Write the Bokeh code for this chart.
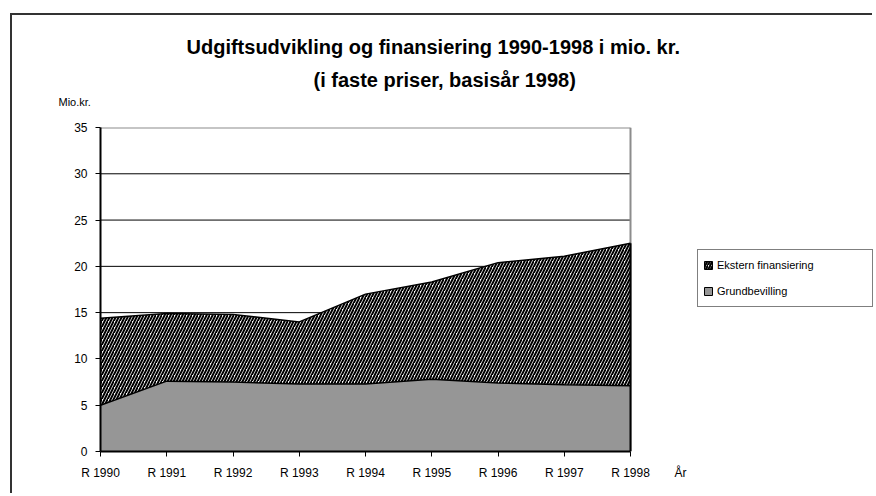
from bokeh.plotting import figure
from bokeh.models import (ColumnDataSource, Legend, LegendItem, Title, Range1d,
                          FixedTicker)
from bokeh.embed import file_html
from bokeh.resources import INLINE

years = ["R 1990", "R 1991", "R 1992", "R 1993", "R 1994", "R 1995", "R 1996", "R 1997", "R 1998"]
grundbevilling = [5.0, 7.6, 7.5, 7.3, 7.3, 7.8, 7.4, 7.2, 7.1]
ekstern = [9.4, 7.3, 7.3, 6.7, 9.7, 10.5, 13.0, 13.9, 15.4]
y_ticks = [0, 5, 10, 15, 20, 25, 30, 35]

FONT = "Liberation Sans"
GRAY = "#969696"
NAN = float("nan")

xs = list(range(len(years)))
total = [g + e for g, e in zip(grundbevilling, ekstern)]
zeros = [0] * len(xs)
src = ColumnDataSource(dict(x=xs, g=grundbevilling, t=total, z=zeros))

x_last = xs[-1]
y_top = y_ticks[-1]
PX_PER_X = 66.25          # horizontal scale of the plot area (px per category step)
W, H = 862, 480
LEFT, TOP, BOTTOM = 88, 112, 44
x_end = (W - LEFT) / PX_PER_X  # plot frame continues to the right to hold the legend

p = figure(width=W, height=H, output_backend="svg", toolbar_location=None, title=None,
           x_range=Range1d(0, x_end), y_range=Range1d(0, y_top),
           min_border_left=LEFT, min_border_right=0, min_border_top=TOP,
           min_border_bottom=BOTTOM)
p.background_fill_color = "white"
p.border_fill_color = "white"
p.outline_line_color = None
p.styles = {"border-top": "2px solid #333333", "border-left": "2px solid #333333",
            "margin-left": "10px", "margin-top": "13px"}

# horizontal grid lines (only over the plot area)
grid_y = y_ticks[1:-1]
p.segment(x0=[0] * len(grid_y), y0=grid_y, x1=[x_last] * len(grid_y), y1=grid_y,
          line_color="black", line_width=1)
# gray plot-area border (top and right)
p.segment(x0=[0, x_last], y0=[y_top, 0], x1=[x_last, x_last], y1=[y_top, y_top],
          line_color="#8c8c8c", line_width=2)

p.varea(x="x", y1="z", y2="g", source=src, fill_color=GRAY)
p.varea(x="x", y1="g", y2="t", source=src, fill_color="white",
        hatch_pattern="/", hatch_color="black", hatch_scale=6, hatch_weight=2)
p.line(x="x", y="t", source=src, line_color="black", line_width=1.5)
p.line(x="x", y="g", source=src, line_color="black", line_width=1.5)
p.segment(x0=[x_last], y0=[0], x1=[x_last], y1=[total[-1]], line_color="black", line_width=2)

# legend swatches (bordered boxes; NaN data so nothing is drawn in the plot)
leg_e = p.quad(left=[NAN], right=[NAN], top=[NAN], bottom=[NAN], fill_color="white",
               line_color="black", line_width=1, hatch_pattern="/", hatch_color="black",
               hatch_scale=5, hatch_weight=2)
leg_g = p.quad(left=[NAN], right=[NAN], top=[NAN], bottom=[NAN], fill_color=GRAY,
               line_color="black", line_width=1)

p.xgrid.visible = False
p.ygrid.visible = False

p.yaxis.ticker = FixedTicker(ticks=y_ticks)
p.xaxis.ticker = FixedTicker(ticks=xs)
p.xaxis.bounds = (0, x_last)
p.xaxis.major_label_overrides = {i: lab for i, lab in enumerate(years)}
for ax in (p.xaxis, p.yaxis):
    ax.axis_line_color = "black"
    ax.axis_line_width = 2
    ax.major_tick_line_color = "black"
    ax.major_tick_line_width = 1
    ax.major_tick_out = 5
    ax.major_tick_in = 0
    ax.minor_tick_line_color = None
    ax.major_label_text_font = FONT
    ax.major_label_text_font_size = "12px"
    ax.major_label_text_color = "black"
p.xaxis.major_label_standoff = 9
p.yaxis.major_label_standoff = 8

def title(text, size, bold, offset, standoff, align="left", valign="bottom"):
    return Title(text=text, text_font=FONT, text_font_size=size,
                 text_font_style="bold" if bold else "normal", text_color="black",
                 align=align, offset=offset, standoff=standoff, vertical_align=valign)

# above stack: first = closest to the plot frame
p.add_layout(title(" ", "1px", False, 0, 17), "above")                      # spacer
p.add_layout(title("Mio.kr.", "11px", False, -42, 0), "above")
p.add_layout(title("(i faste priser, basisår 1998)", "20px", True, 213, 6), "above")
p.add_layout(title("Udgiftsudvikling og finansiering 1990-1998 i mio. kr.", "20px", True, 86, 12), "above")
p.add_layout(title("År\n \n ", "12px", False, 574, -34, align="left", valign="top"), "below")

legend = Legend(items=[LegendItem(label="Ekstern finansiering", renderers=[leg_e]),
                       LegendItem(label="Grundbevilling", renderers=[leg_g])],
                location=(597, 144), orientation="vertical")
legend.label_text_font = FONT
legend.label_text_font_size = "11px"
legend.label_text_color = "black"
legend.glyph_width = 10
legend.glyph_height = 10
legend.label_height = 20
legend.label_width = 150
legend.label_standoff = 4
legend.spacing = 6
legend.padding = 5
legend.margin = 0
legend.border_line_color = "black"
legend.border_line_width = 1
legend.background_fill_alpha = 1
p.add_layout(legend)

open("out.html", "w").write(file_html(p, INLINE))
